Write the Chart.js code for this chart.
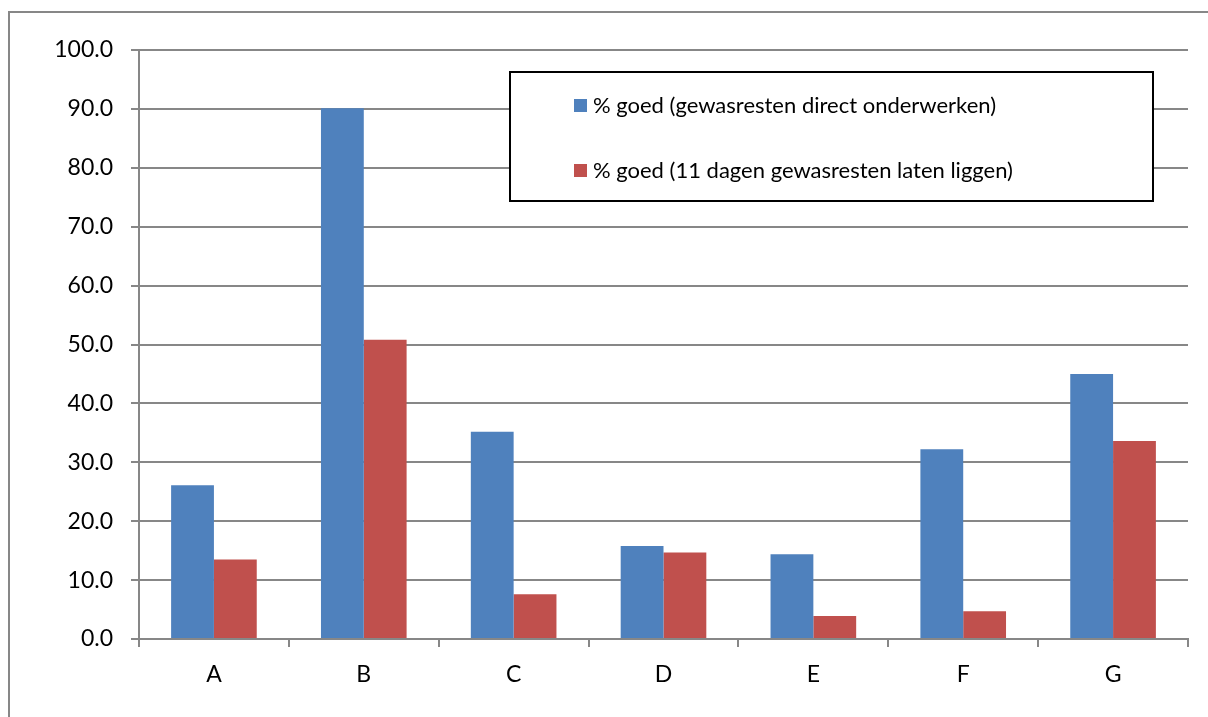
<!DOCTYPE html>
<html lang="nl">
  <head>
    <meta charset="UTF-8" />
    <title>% goed</title>
    <script src="https://cdn.jsdelivr.net/npm/chart.js@4"></script>
    <style>
      html, body { margin: 0; padding: 0; background: #fff; }
      #wrap { width: 1208px; height: 717px; }
    </style>
  </head>
  <body>
    <div id="wrap"><canvas id="myChart" width="1208" height="717"></canvas></div>

    <script>
      const categories = ['A', 'B', 'C', 'D', 'E', 'F', 'G'];
      const directOnderwerken = [26.1, 90.1, 35.2, 15.8, 14.4, 32.2, 45.0];
      const dagenLatenLiggen = [13.5, 50.8, 7.6, 14.7, 3.9, 4.7, 33.6];
      const seriesLabels = [
        '% goed (gewasresten direct onderwerken)',
        '% goed (11 dagen gewasresten laten liggen)'
      ];
      const yTicks = [0, 10, 20, 30, 40, 50, 60, 70, 80, 90, 100];

      const gridGrey = '#878787';
      const font = { family: 'Lato', size: 23 };

      // outer frame of the chart object
      const framePlugin = {
        id: 'frame',
        beforeDraw(chart) {
          const c = chart.ctx;
          c.save();
          c.fillStyle = '#fff';
          c.fillRect(0, 0, chart.width, chart.height);
          c.strokeStyle = gridGrey;
          c.lineWidth = 2;
          c.strokeRect(9, 12, chart.width + 20, chart.height + 20);
          c.restore();
        }
      };

      // boxed legend inside the plot, drawn from the datasets
      const boxLegend = {
        id: 'boxLegend',
        afterDraw(chart) {
          const c = chart.ctx;
          const x0 = 510, y0 = 72, w = 643, h = 129;
          c.save();
          c.fillStyle = '#fff';
          c.fillRect(x0, y0, w, h);
          c.strokeStyle = '#000';
          c.lineWidth = 2;
          c.strokeRect(x0, y0, w, h);
          c.font = '22px Lato';
          c.textBaseline = 'middle';
          chart.data.datasets.forEach((ds, i) => {
            const y = i === 0 ? 106 : 171;
            c.fillStyle = ds.backgroundColor;
            c.fillRect(574, y - 7, 13, 13);
            c.fillStyle = '#000';
            c.fillText(ds.label, 593, y);
          });
          c.restore();
        }
      };

      const ctx = document.getElementById('myChart').getContext('2d');
      const myChart = new Chart(ctx, {
        type: 'bar',
        data: {
          labels: categories,
          datasets: [
            {
              label: seriesLabels[0],
              data: directOnderwerken,
              backgroundColor: '#4F81BD',
              borderWidth: 0,
              categoryPercentage: 2 / 3.5,
              barPercentage: 1
            },
            {
              label: seriesLabels[1],
              data: dagenLatenLiggen,
              backgroundColor: '#C0504D',
              borderWidth: 0,
              categoryPercentage: 2 / 3.5,
              barPercentage: 1
            }
          ]
        },
        options: {
          responsive: false,
          animation: false,
          layout: { padding: { top: 50, right: 20, left: 0, bottom: 0 } },
          plugins: {
            legend: { display: false },
            tooltip: { enabled: false }
          },
          scales: {
            x: {
              grid: {
                offset: true,
                drawOnChartArea: false,
                drawTicks: true,
                tickLength: 8,
                color: gridGrey,
                lineWidth: 2
              },
              border: { color: gridGrey, width: 2 },
              ticks: { color: '#000', font: font, padding: 14 },
              afterFit(scale) { scale.height = 78; }
            },
            y: {
              min: 0,
              max: 100,
              afterBuildTicks(scale) {
                scale.ticks = yTicks.map(v => ({ value: v }));
              },
              grid: {
                color: gridGrey,
                lineWidth: 2,
                tickLength: 8
              },
              border: { color: gridGrey, width: 2 },
              ticks: {
                color: '#000',
                font: font,
                padding: 18,
                callback: v => v.toFixed(1)
              },
              afterFit(scale) { scale.width = 139; }
            }
          }
        },
        plugins: [framePlugin, boxLegend]
      });
    </script>
  </body>
</html>
